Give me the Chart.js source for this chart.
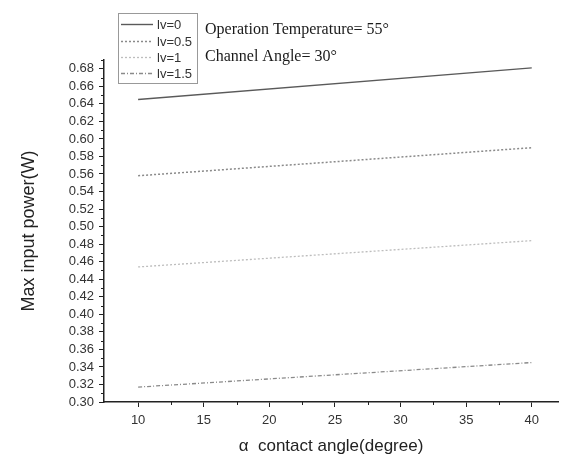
<!DOCTYPE html>
<html>
<head>
<meta charset="utf-8">
<script src="https://cdn.jsdelivr.net/npm/chart.js@4"></script>
<style>
html,body{margin:0;padding:0;background:#fff;}
#wrap{width:566px;height:457px;position:relative;}
</style>
</head>
<body>
<div id="wrap"><canvas id="c" width="566" height="457"></canvas></div>
<script>
const contactAngle = [10, 40];
const lv0 = [0.645, 0.681];
const lv05 = [0.558, 0.590];
const lv1 = [0.454, 0.484];
const lv15 = [0.317, 0.345];
const seriesNames = ['lv=0', 'lv=0.5', 'lv=1', 'lv=1.5'];
const xTicks = [10, 15, 20, 25, 30, 35, 40];
const yTicks = [0.30,0.32,0.34,0.36,0.38,0.40,0.42,0.44,0.46,0.48,0.50,0.52,0.54,0.56,0.58,0.60,0.62,0.64,0.66,0.68];
const noteLines = ['Operation Temperature= 55°', 'Channel Angle= 30°'];

const styles = [
  {color:'#5a5a5a', dash:[], width:1.4},
  {color:'#8a8a8a', dash:[2,2], width:1.5},
  {color:'#bdbdbd', dash:[2,2], width:1.3},
  {color:'#8a8a8a', dash:[4,2,1,2], width:1.3}
];
const allSeries = [lv0, lv05, lv1, lv15];

const datasets = allSeries.map((s, i) => ({
  label: seriesNames[i],
  data: s.map((v, j) => ({x: contactAngle[j], y: v})),
  borderColor: styles[i].color,
  borderDash: styles[i].dash,
  borderWidth: styles[i].width,
  pointRadius: 0,
  fill: false,
  tension: 0
}));

const extras = {
  id: 'extras',
  afterDraw(chart) {
    const ctx = chart.ctx;
    const xs = chart.scales.x, ys = chart.scales.y;
    ctx.save();
    ctx.strokeStyle = '#222';
    ctx.lineWidth = 1;
    for (let k = 31; k <= 69; k += 2) {
      const p = Math.round(ys.getPixelForValue(k / 100)) + 0.5;
      ctx.beginPath(); ctx.moveTo(xs.left - 3, p); ctx.lineTo(xs.left, p); ctx.stroke();
    }
    for (let k = 12.5; k < 42; k += 5) {
      const p = Math.round(xs.getPixelForValue(k)) + 0.5;
      ctx.beginPath(); ctx.moveTo(p, ys.bottom); ctx.lineTo(p, ys.bottom + 3); ctx.stroke();
    }
    ctx.strokeStyle = '#999';
    ctx.lineWidth = 1;
    ctx.strokeRect(118.5, 13.5, 79, 70);
    const rows = [24, 41, 57, 73];
    ctx.font = '13px "Liberation Sans", Arial, sans-serif';
    ctx.textBaseline = 'middle';
    ctx.fillStyle = '#333';
    chart.data.datasets.forEach((d, i) => {
      ctx.beginPath();
      ctx.strokeStyle = d.borderColor;
      ctx.lineWidth = d.borderWidth;
      ctx.setLineDash(d.borderDash);
      ctx.moveTo(121, rows[i] + 0.5); ctx.lineTo(153, rows[i] + 0.5); ctx.stroke();
      ctx.setLineDash([]);
      ctx.fillText(d.label, 157, rows[i] + 1);
    });
    ctx.font = '16px "Liberation Serif", "Times New Roman", serif';
    ctx.fillStyle = '#1a1a1a';
    ctx.fillText(noteLines[0], 205, 30);
    ctx.fillText(noteLines[1], 205, 57);
    ctx.restore();
  }
};

new Chart(document.getElementById('c'), {
  type: 'line',
  data: {datasets},
  options: {
    responsive: false,
    animation: false,
    devicePixelRatio: 1,
    layout: {padding: {left: 18, right: 8, top: 60, bottom: 0}},
    plugins: {legend: {display: false}, tooltip: {enabled: false}},
    scales: {
      x: {
        type: 'linear',
        min: 7.4, max: 42,
        afterBuildTicks: s => { s.ticks = xTicks.map(v => ({value: v})); },
        afterFit: s => { s.height = 55; },
        grid: {display: true, drawOnChartArea: false, drawTicks: true, tickLength: 5, tickColor: '#222', tickWidth: 1},
        border: {display: true, color: '#222', width: 1.5},
        ticks: {autoSkip: false, color: '#333', font: {family: '"Liberation Sans", Arial, sans-serif', size: 13}, padding: 6, maxRotation: 0, callback: v => String(v)},
        title: {display: true, text: 'α  contact angle(degree)', color: '#222', font: {family: '"Liberation Sans", Arial, sans-serif', size: 17}, padding: {top: 9, bottom: 0}}
      },
      y: {
        type: 'linear',
        min: 0.30, max: 0.69,
        afterBuildTicks: s => { s.ticks = yTicks.map(v => ({value: v})); },
        afterFit: s => { s.width = 86; },
        grid: {display: true, drawOnChartArea: false, drawTicks: true, tickLength: 5, tickColor: '#222', tickWidth: 1},
        border: {display: true, color: '#222', width: 1.5},
        ticks: {autoSkip: false, color: '#333', font: {family: '"Liberation Sans", Arial, sans-serif', size: 13}, padding: 5, callback: v => Number(v).toFixed(2)},
        title: {display: true, text: 'Max input power(W)', color: '#222', font: {family: '"Liberation Sans", Arial, sans-serif', size: 18}, padding: {top: 0, bottom: 10}}
      }
    }
  },
  plugins: [extras]
});
</script>
</body>
</html>
